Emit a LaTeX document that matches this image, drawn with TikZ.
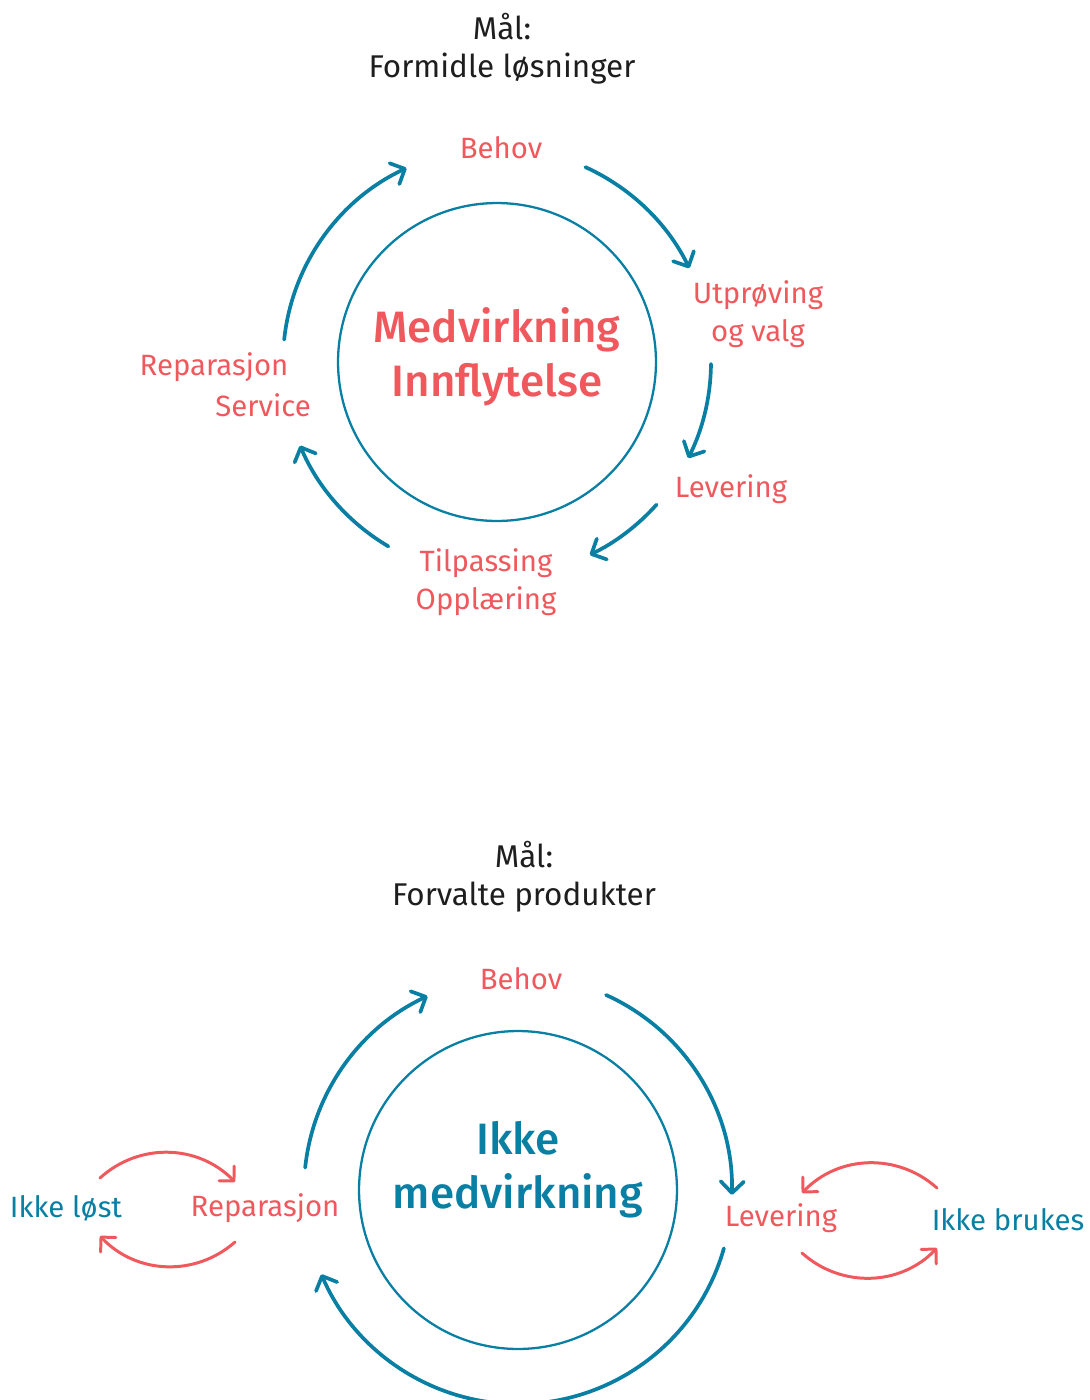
\documentclass[tikz,border=0pt]{standalone}
\usepackage{fontspec}
\setmainfont{Fira Sans}
\newfontfamily\halvfet{Fira Sans Medium}
\usetikzlibrary{arrows.meta,calc}
\definecolor{petrol}{RGB}{8,127,163}
\definecolor{koral}{RGB}{239,88,92}
\definecolor{tekst}{RGB}{30,30,30}

\begin{document}
\begin{tikzpicture}[x=0.02cm, y=0.02cm]
\tikzstyle{every node}=[font=\fontsize{16.7}{21.5}\selectfont, inner sep=0pt]
\tikzstyle{sirkel}=[circle, draw=petrol, line width=1.3pt, minimum size=6.36cm]
\tikzstyle{pil}=[petrol, line width=2.1pt, line cap=round,
                 -{Straight Barb[length=2.3mm, width=4.6mm, round]}]
\tikzstyle{rodpil}=[koral, line width=1.7pt, line cap=round,
                    -{Straight Barb[length=2.1mm, width=4.2mm, round]}]
\tikzstyle{steg}=[koral, align=center]
\tikzstyle{tittel}=[tekst, align=center, font=\fontsize{17.9}{21.5}\selectfont]
\tikzstyle{midt}=[font=\fontsize{25}{30.6}\selectfont\halvfet, align=center]

\useasboundingbox (0,0) rectangle (1089,-1400);
\clip (0,0) rectangle (1089,-1400);

% Formidle loesninger
\node[tittel] (tittelA) at (502,-49) {Mål:\\Formidle løsninger};
\node[sirkel] (senterA) at (497,-362) {};
    \node[midt, koral] (midtA) at (497,-357) {Medvirkning\\Innflytelse};
\node[steg] (behovA) at (501,-148) {Behov};
\node[steg] (utproving) at (758,-314) {Utprøving\\og valg};
\node[steg] (leveringA) at (731,-489) {Levering};
\node[steg] (tilpassing) at (486,-582) {Tilpassing\\Opplæring};
\node[steg] (reparasjonA) at (214,-367) {Reparasjon};
\node[steg] (service) at (263,-405) {Service};

\draw[pil] ($(senterA)+(65.6:214)$) arc[start angle=65.6, end angle=26, radius=214];
\draw[pil] ($(senterA)+(-0.5:214)$) arc[start angle=-0.5, end angle=-26.7, radius=214];
\draw[pil] ($(senterA)+(-41.8:214)$) arc[start angle=-41.8, end angle=-64.3, radius=214];
\draw[pil] ($(senterA)+(-120.5:214)$) arc[start angle=-120.5, end angle=-157, radius=214];
\draw[pil] ($(senterA)+(174:214)$) arc[start angle=174, end angle=115, radius=214];

% Forvalte produkter
\node[tittel] (tittelB) at (524,-877) {Mål:\\Forvalte produkter};
\node[sirkel] (senterB) at (518,-1190) {};
    \node[midt, petrol] (midtB) at (518,-1170) {Ikke\\medvirkning};
\node[steg] (behovB) at (521,-979) {Behov};
\node[steg] (reparasjonB) at (265,-1208) {Reparasjon};
\node[steg] (leveringB) at (781,-1218) {Levering};
\node[petrol] (ikkelost) at (66,-1208) {Ikke løst};
\node[petrol] (ikkebrukes) at (1008,-1220) {Ikke brukes};

\draw[pil] ($(senterB)+(174:214)$) arc[start angle=174, end angle=115, radius=214];
\draw[pil] ($(senterB)+(65.7:214)$) arc[start angle=65.7, end angle=-1.3, radius=214];
\draw[pil] ($(senterB)+(-15.8:214)$) arc[start angle=-15.8, end angle=-156.8, radius=214];

\coordinate (lost1) at (100,-1178);
\coordinate (lost2) at (100,-1236);
\coordinate (rep1) at (235,-1182);
\coordinate (rep2) at (235,-1242);
\draw[rodpil] (lost1) to[bend left=44] (rep1);
\draw[rodpil] (rep2) to[bend left=44] (lost2);

\coordinate (lev1) at (802,-1193);
\coordinate (lev2) at (802,-1253);
\coordinate (bruk1) at (937,-1188);
\coordinate (bruk2) at (937,-1248);
\draw[rodpil] (bruk1) to[bend right=44] (lev1);
\draw[rodpil] (lev2) to[bend right=44] (bruk2);

\end{tikzpicture}
\end{document}
